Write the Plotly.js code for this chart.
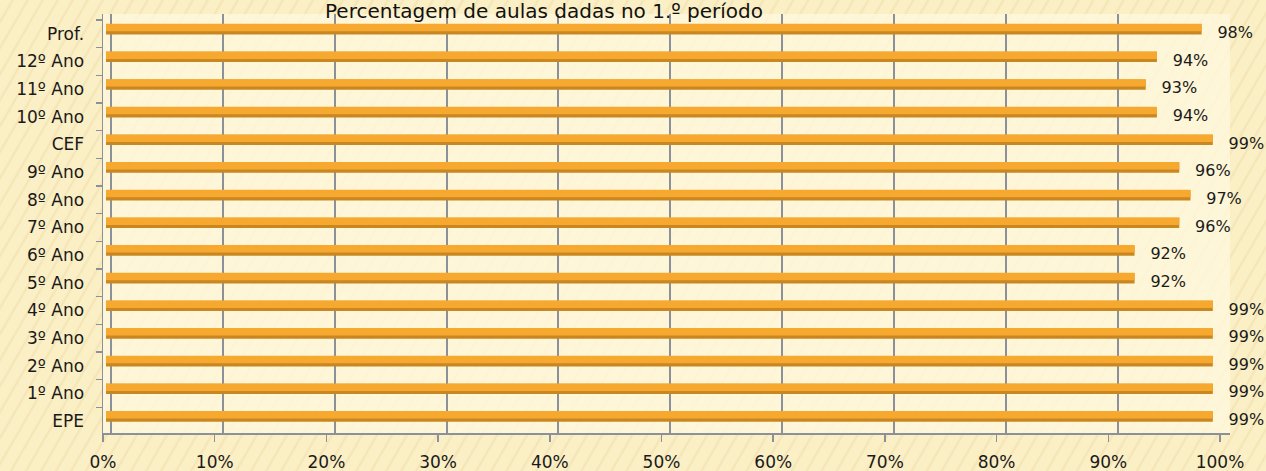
<!DOCTYPE html>
<html>
<head>
<meta charset="utf-8">
<script src="https://cdn.plot.ly/plotly-3.0.1.min.js"></script>
<style>
  html, body { margin: 0; padding: 0; }
  body {
    width: 1266px; height: 471px; overflow: hidden;
    background-color: #FBEFC6;
    background-image: repeating-linear-gradient(120deg, rgba(230,205,140,0.0) 0px, rgba(230,205,140,0.0) 9px, rgba(225,200,135,0.28) 11px, rgba(230,205,140,0.0) 13px);
  }
  #chart { width: 1266px; height: 471px; }
</style>
</head>
<body>
<div id="chart"></div>
<script>
// ---- data (bottom to top) ----
const categories = ["EPE", "1º Ano", "2º Ano", "3º Ano", "4º Ano", "5º Ano", "6º Ano",
                    "7º Ano", "8º Ano", "9º Ano", "CEF", "10º Ano", "11º Ano", "12º Ano", "Prof."];
const values = [0.99, 0.99, 0.99, 0.99, 0.99, 0.92, 0.92, 0.96, 0.97, 0.96, 0.99, 0.94, 0.93, 0.94, 0.98];
const tickValues = [0, 0.1, 0.2, 0.3, 0.4, 0.5, 0.6, 0.7, 0.8, 0.9, 1.0];
const titleText = "Percentagem de aulas dadas no 1.º período";

const FONT = "DejaVu Sans, sans-serif";
const AXIS_GREY = "#8C9099";

const traces = [
  // bar body (darker underside)
  {
    type: "bar", orientation: "h",
    x: values, y: categories,
    xaxis: "x3", yaxis: "y2",
    width: 0.37, offset: -0.185,
    marker: { color: "#C98722", line: { width: 0 } },
    hoverinfo: "x+y", showlegend: false
  },
  // bar top face (lighter)
  {
    type: "bar", orientation: "h",
    x: values, y: categories,
    xaxis: "x3", yaxis: "y2",
    width: 0.27, offset: -0.07,
    marker: { color: "#F7A92F", line: { width: 0 } },
    hoverinfo: "skip", showlegend: false
  },
  // data labels at front plane
  {
    type: "scatter", mode: "markers+text",
    x: values, y: categories,
    xaxis: "x", yaxis: "y",
    text: values.map(v => Math.round(v * 100) + "%"),
    textposition: "middle right",
    textfont: { family: FONT, size: 16, color: "#1a1a1a" },
    marker: { size: 30, opacity: 0 },
    cliponaxis: false, hoverinfo: "skip", showlegend: false
  },
  // back wall gridline axis holder
  {
    type: "scatter", mode: "markers",
    x: [], y: [], xaxis: "x2", yaxis: "y",
    hoverinfo: "skip", showlegend: false
  }
];

const layout = {
  width: 1266, height: 471,
  margin: { l: 103, r: 36, t: 14, b: 38, pad: 0 },
  paper_bgcolor: "rgba(0,0,0,0)",
  plot_bgcolor: "rgba(255,248,222,0.75)",
  font: { family: FONT, size: 17, color: "#1a1a1a" },
  barmode: "overlay",
  title: {
    text: titleText,
    font: { family: FONT, size: 20, color: "#111" },
    x: 0.4297, xanchor: "center", xref: "container",
    y: 0.976, yanchor: "middle", yref: "container"
  },
  // front axis: ticks + labels
  xaxis: {
    range: [0, 1127 / 1117],
    tickvals: tickValues, tickformat: ".0%",
    showgrid: false, zeroline: false,
    showline: true, linecolor: AXIS_GREY, linewidth: 1.5,
    ticks: "outside", ticklen: 7, tickcolor: AXIS_GREY, tickwidth: 1.5,
    ticklabelstandoff: 6,
    tickfont: { family: FONT, size: 17, color: "#1a1a1a" },
    fixedrange: true
  },
  // back wall: gridlines
  xaxis2: {
    overlaying: "x", anchor: "y", side: "bottom",
    range: [-8 / 1119, 1.0005],
    tickvals: tickValues, showticklabels: false, ticks: "",
    showgrid: true, gridcolor: AXIS_GREY, gridwidth: 2,
    zeroline: false, showline: false, fixedrange: true
  },
  // bars at middle depth
  xaxis3: {
    overlaying: "x", anchor: "y2", side: "bottom",
    range: [-3 / 1118, -3 / 1118 + 1127 / 1118],
    visible: false, fixedrange: true
  },
  yaxis: {
    type: "category", categoryorder: "array", categoryarray: categories,
    range: [-0.428, 14.717],
    tickson: "boundaries",
    showgrid: false, zeroline: false,
    showline: true, linecolor: AXIS_GREY, linewidth: 1.5,
    ticks: "outside", ticklen: 6, tickcolor: AXIS_GREY, tickwidth: 1.5,
    ticklabelstandoff: 14,
    tickfont: { family: FONT, size: 17, color: "#1a1a1a" },
    fixedrange: true
  },
  yaxis2: {
    type: "category", categoryorder: "array", categoryarray: categories,
    overlaying: "y", anchor: "x3",
    range: [-0.591, 14.554],
    visible: false, fixedrange: true
  }
};

Plotly.newPlot("chart", traces, layout, { displayModeBar: false, staticPlot: true });
</script>
</body>
</html>
